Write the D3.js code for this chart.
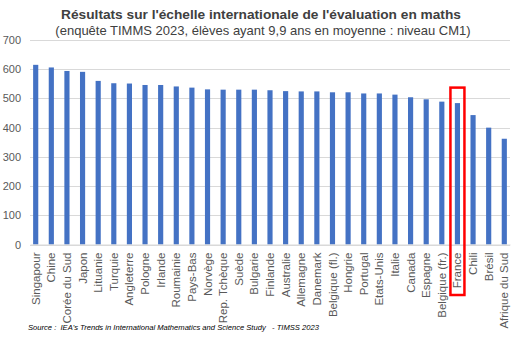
<!DOCTYPE html>
<html><head><meta charset="utf-8">
<script src="https://cdn.jsdelivr.net/npm/d3@7"></script>
<style>body{margin:0;background:#fff}svg{display:block;font-family:"Liberation Sans",Arial,sans-serif}</style>
</head><body>
<script>
const categories = ["Singapour","Chine","Corée du Sud","Japon","Lituanie","Turquie","Angleterre","Pologne","Irlande","Roumainie","Pays-Bas","Norvège","Rep. Tchèque","Suède","Bulgarie","Finlande","Australie","Allemagne","Danemark","Belgique (fl.)","Hongrie","Portugal","Etats-Unis","Italie","Canada","Espagne","Belgique (fr.)","France","Chili","Brésil","Afrique du Sud"];
const values = [615,606,594,591,560,552,551,546,546,541,537,531,530,530,530,528,525,524,524,521,521,517,517,513,504,497,489,484,443,400,362];
const yTicks = [0,100,200,300,400,500,600,700];
const highlight = "France";
const title = "Résultats sur l'échelle internationale de l'évaluation en maths";
const subtitle = "(enquête TIMMS 2023, élèves ayant 9,9 ans en moyenne : niveau CM1)";
const source = "Source :  IEA's Trends in International Mathematics and Science Study   - TIMSS 2023";

(function(){
const W = 522, H = 340;
const svg = d3.select("body").append("svg").attr("width", W).attr("height", H);
const mLeft = 30, mRight = 510, mTop = 40, mBottom = 244.5;
const x = d3.scaleBand().domain(categories).range([mLeft, mRight]).paddingInner(0.67).paddingOuter(0.2);
const y = d3.scaleLinear().domain([0, 700]).range([mBottom, mTop]);

svg.append("text").attr("x", 261).attr("y", 19).attr("text-anchor", "middle")
  .attr("font-size", 13.7).attr("font-weight", "bold").attr("fill", "#404040").text(title);
svg.append("text").attr("x", 263).attr("y", 34.5).attr("text-anchor", "middle")
  .attr("font-size", 13).attr("fill", "#404040").text(subtitle);

svg.append("g").selectAll("line").data(yTicks).join("line")
  .attr("x1", mLeft).attr("x2", mRight).attr("y1", d => Math.round(y(d)) + 0.5).attr("y2", d => Math.round(y(d)) + 0.5)
  .attr("stroke", "#d9d9d9").attr("stroke-width", 1);

const yAxis = svg.append("g").attr("transform", `translate(${mLeft},0)`)
  .call(d3.axisLeft(y).tickValues(yTicks).tickSize(0).tickPadding(9));
yAxis.select(".domain").remove();
yAxis.selectAll("text").attr("font-size", 11).attr("fill", "#595959").attr("font-family", "Liberation Sans, Arial, sans-serif");

svg.append("g").selectAll("rect").data(categories).join("rect")
  .attr("x", d => x(d)).attr("width", x.bandwidth())
  .attr("y", (d, i) => y(values[i])).attr("height", (d, i) => mBottom - y(values[i]))
  .attr("fill", "#4472C4");

const xAxis = svg.append("g").attr("transform", `translate(0,${mBottom})`)
  .call(d3.axisBottom(x).tickSize(0).tickPadding(0));
xAxis.select(".domain").attr("stroke", "#d9d9d9");
xAxis.selectAll("text")
  .attr("font-size", 11.5).attr("fill", "#595959").attr("font-family", "Liberation Sans, Arial, sans-serif")
  .attr("transform", "rotate(-90)").attr("text-anchor", "end")
  .attr("x", -8).attr("y", 0).attr("dy", "0.35em");

const hi = categories.indexOf(highlight);
const cx = x(highlight) + x.bandwidth() / 2;
svg.append("rect").attr("x", cx - 7).attr("width", 14)
  .attr("y", y(values[hi]) - 15.5).attr("height", 295 - (y(values[hi]) - 15.5))
  .attr("fill", "none").attr("stroke", "#ff0000").attr("stroke-width", 2.5);

svg.append("text").attr("x", 28).attr("y", 330).attr("font-size", 7.6).attr("font-style", "italic")
  .style("white-space", "pre").attr("fill", "#000").text(source);
})();
</script>
</body></html>
